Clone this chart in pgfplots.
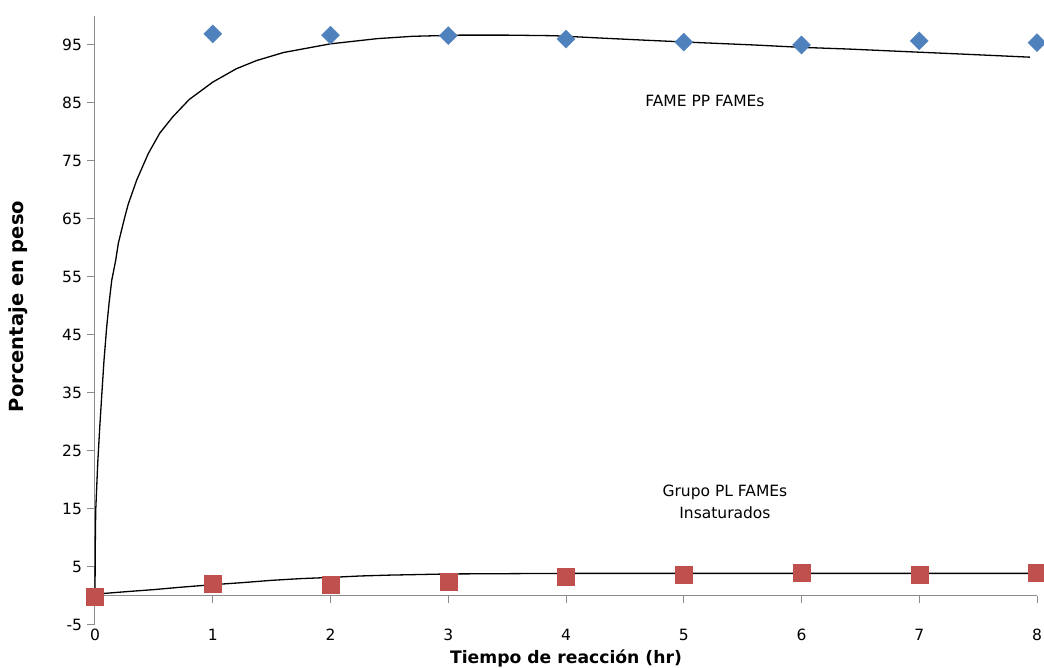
\documentclass[border=0pt]{standalone}
\usepackage{fontspec}
\setmainfont{DejaVu Sans}
\usepackage{pgfplots}
\pgfplotsset{compat=1.18}
\definecolor{serblue}{HTML}{4F81BD}
\definecolor{serred}{HTML}{C0504D}
\definecolor{axgray}{HTML}{8C8C8C}
\begin{document}
\begin{tikzpicture}
\path[use as bounding box] (0,0) rectangle (1044pt,668pt);
\begin{axis}[
  at={(95pt,43pt)}, anchor=south west,
  scale only axis, width=942pt, height=609pt,
  xmin=0, xmax=8, ymin=-5, ymax=100,
  axis x line=middle, axis y line=left,
  hide obscured x ticks=false,
  axis line style={-, draw=axgray, line width=1pt},
  xtick={0,1,...,8}, ytick={-5,5,...,95},
  tick align=outside, major tick length=7.5pt,
  tick style={draw=axgray, line width=1pt},
  /pgf/number format/assume math mode=true,
  ticklabel style={font=\fontsize{15.5}{18}\selectfont},
  xticklabel style={anchor=center, yshift=-31pt},
  yticklabel style={anchor=east, xshift=-2pt},
  xlabel={\textbf{Tiempo de reacción (hr)}},
  ylabel={\textbf{Porcentaje en peso}},
  xlabel style={font=\fontsize{17.2}{20}\selectfont, at={(axis description cs:0.5,0)}, anchor=center, yshift=-33pt},
  ylabel style={font=\fontsize{19.5}{20}\selectfont, at={(axis description cs:0,0.5)}, anchor=center, yshift=77pt, xshift=14pt},
  clip=false,
]
% fitted curves
\addplot[black, line width=1.3pt] coordinates {
(0,0) (0.002,8) (0.006,14.7) (0.023,22.8) (0.04,29) (0.057,34.5) (0.076,40.5) (0.099,46.3) (0.119,50.4) (0.142,54.4) (0.176,57.9) (0.198,60.8) (0.227,63.2) (0.255,65.5) (0.283,67.6) (0.354,71.7) (0.453,76.3) (0.55,79.8) (0.66,82.6) (0.8,85.6) (1.0,88.6) (1.2,90.9) (1.37,92.3) (1.6,93.7) (2.0,95.2) (2.4,96.1) (2.7,96.5) (3.1,96.7) (3.5,96.7) (3.9,96.6) (4.29,96.2) (4.7,95.8) (5.14,95.4) (5.6,95.0) (5.99,94.6) (6.4,94.3) (6.84,93.9) (7.4,93.4) (7.94,92.9)
};
\addplot[black, line width=1.3pt] coordinates {
(0,0.2) (0.05,0.4) (0.3,0.8) (0.5,1.1) (0.72,1.5) (1,1.95) (1.25,2.3) (1.5,2.7) (1.75,3.0) (2,3.2) (2.25,3.45) (2.5,3.6) (2.75,3.7) (3,3.8) (3.5,3.85) (4,3.9) (5,3.9) (6,3.9) (7,3.9) (8,3.9)
};
% data
\addplot[only marks, mark=diamond*, mark size=9pt, mark options={draw=serblue, fill=serblue, xscale=1.33}] coordinates {
(1,96.9) (2,96.7) (3,96.6) (4,96.0) (5,95.5) (6,95.0) (7,95.7) (8,95.4)
};
\addplot[only marks, mark=square*, mark size=8.5pt, mark options={draw=serred, fill=serred, rounded corners=2pt}] coordinates {
(0,-0.2) (1,2.1) (2,2.0) (3,2.4) (4,3.3) (5,3.6) (6,4.0) (7,3.6) (8,4.0)
};
\node[font=\fontsize{15.5}{18}\selectfont] at (axis cs:5.18,85.3) {FAME PP FAMEs};
\node[font=\fontsize{15.5}{22}\selectfont, align=center] at (axis cs:5.35,16.2) {Grupo PL FAMEs\\Insaturados};
\end{axis}
\end{tikzpicture}
\end{document}
